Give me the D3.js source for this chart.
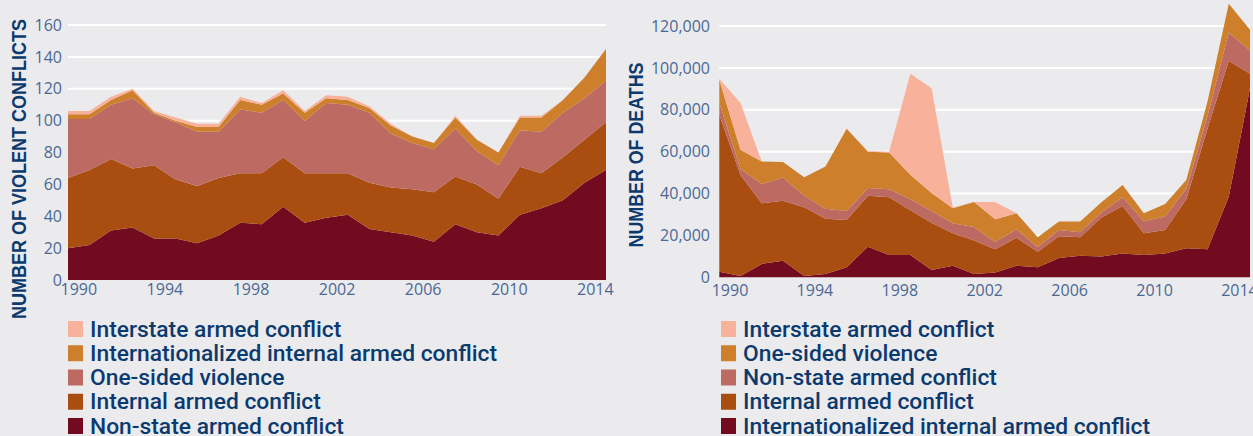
<!DOCTYPE html>
<html>
<head>
<meta charset="utf-8">
<script src="https://cdn.jsdelivr.net/npm/d3@7"></script>
<style>
  html, body { margin: 0; padding: 0; background: #ebebed; overflow: hidden; }
  svg { display: block; }
  .tick text { font-family: "Open Sans", "Noto Sans", sans-serif; }
</style>
</head>
<body>
<svg id="chart" width="1253" height="436"></svg>
<script>
// ---- data ---------------------------------------------------------------
const years = [1989, 1990, 1991, 1992, 1993, 1994, 1995, 1996, 1997, 1998, 1999, 2000, 2001,
               2002, 2003, 2004, 2005, 2006, 2007, 2008, 2009, 2010, 2011, 2012, 2013, 2014];
const tickYears = [1990, 1994, 1998, 2002, 2006, 2010, 2014];

// Number of violent conflicts, by type
const conflictNonState   = [20, 22, 31, 33, 26, 26, 23, 28, 36, 35, 46, 36, 39, 41, 32, 30, 28, 24, 35, 30, 28, 41, 45, 50, 61, 69];
const conflictInternal   = [44, 47, 45, 37, 46, 37, 36, 36, 31, 32, 31, 31, 28, 26, 29, 28, 29, 31, 30, 30, 23, 30, 22, 27, 27, 30];
const conflictOneSided   = [37, 32, 34, 44, 32, 36, 34, 29, 40, 38, 36, 33, 44, 43, 44, 34, 29, 27, 30, 21, 21, 23, 26, 28, 26, 26];
const conflictIntlInt    = [3, 3, 3, 5, 1, 1, 3, 3, 6, 5, 4, 5, 3, 3, 3, 5, 4, 4, 7, 7, 8, 8, 9, 8, 13, 20];
const conflictInterstate = [2, 2, 2, 1, 1, 2, 2, 2, 2, 1, 2, 1, 2, 2, 1, 1, 0, 0, 1, 0, 0, 1, 1, 0, 0, 0];
const conflictTicks = [0, 20, 40, 60, 80, 100, 120, 140, 160];

// Number of deaths, by type
const deathsIntlInt    = [2700, 600, 6400, 7900, 600, 1600, 4800, 14600, 10700, 10700, 3500, 5500, 1600, 2300, 5500, 4800, 9200, 10300, 9900, 11400, 10700, 11400, 13900, 13400, 38500, 90300];
const deathsInternal   = [74900, 48300, 29000, 28600, 32900, 26300, 22600, 24400, 27500, 21300, 22500, 15500, 16000, 11100, 13400, 7400, 10400, 8800, 18700, 22600, 10300, 11200, 23400, 57600, 64900, 6900];
const deathsNonState   = [5600, 2800, 9100, 11100, 5400, 4800, 4300, 3600, 3900, 5300, 5600, 4800, 6400, 3500, 4100, 2200, 3000, 2400, 2400, 4200, 5800, 6400, 5000, 6000, 13500, 11100];
const deathsOneSided   = [11100, 9200, 10800, 7400, 8900, 20200, 39200, 17400, 17500, 11700, 8700, 7200, 11900, 10800, 7600, 4700, 4000, 5100, 4800, 5900, 3800, 6000, 4200, 7000, 13700, 9900];
const deathsInterstate = [500, 22300, 0, 0, 0, 0, 0, 300, 400, 48200, 50000, 300, 0, 8200, 0, 0, 0, 0, 0, 0, 0, 0, 0, 0, 0, 0];
const deathTicks = [0, 20000, 40000, 60000, 80000, 100000, 120000];

// Layer colours, bottom of the stack first
const layerColors = ["#720a20", "#a94d11", "#bd6b62", "#cd7f2b", "#f8b19a"];

// Legend entries, top row first
const conflictLegend = ["Interstate armed conflict", "Internationalized internal armed conflict",
                        "One-sided violence", "Internal armed conflict", "Non-state armed conflict"];
const deathLegend = ["Interstate armed conflict", "One-sided violence",
                     "Non-state armed conflict", "Internal armed conflict",
                     "Internationalized internal armed conflict"];

// ---- drawing ------------------------------------------------------------
const svg = d3.select("#chart");
const navy = "#0b3a6e";
const tickColor = "#4a6896";

function panel(opts) {
  const g = svg.append("g");
  const x = d3.scalePoint().domain(years).range(opts.xRange);
  const y = d3.scaleLinear().domain(opts.yDomain).range(opts.yRange);

  // gridlines
  g.append("g").selectAll("line").data(opts.yTicks.slice(1)).join("line")
    .attr("x1", opts.xRange[0]).attr("x2", opts.xRange[1])
    .attr("y1", d => y(d)).attr("y2", d => y(d))
    .attr("stroke", "#ffffff").attr("stroke-width", 2);

  // stacked areas
  const rows = years.map((yr, i) => {
    const r = { year: yr };
    opts.series.forEach((s, k) => r["s" + k] = s[i]);
    return r;
  });
  const keys = opts.series.map((_, k) => "s" + k);
  const stacked = d3.stack().keys(keys)(rows);
  const area = d3.area()
    .x(d => x(d.data.year))
    .y0(d => y(d[0]))
    .y1(d => y(d[1]));
  g.append("g").selectAll("path").data(stacked).join("path")
    .attr("d", area)
    .attr("fill", (d, i) => layerColors[i]);

  // y axis labels
  const yAxis = d3.axisLeft(y).tickValues(opts.yTicks).tickSize(0).tickPadding(0)
    .tickFormat(opts.yFormat);
  const ya = g.append("g").attr("transform", `translate(${opts.yLabelX},0)`).call(yAxis);
  ya.select(".domain").remove();
  ya.selectAll("text").attr("fill", tickColor).style("font-size", "16px");

  // x axis labels, centred between neighbouring years
  const step = x.step();
  const xl = d3.scaleLinear().domain([tickYears[0], tickYears[tickYears.length - 1]])
    .range([x(tickYears[0]) - step * 0.52, x(tickYears[tickYears.length - 1]) - step * 0.52]);
  const xAxis = d3.axisBottom(xl).tickValues(tickYears).tickSize(0).tickPadding(0)
    .tickFormat(d3.format("d"));
  const xa = g.append("g").attr("transform", `translate(0,${opts.xLabelY})`).call(xAxis);
  xa.select(".domain").remove();
  xa.selectAll("text").attr("fill", tickColor).style("font-size", "16px");

  // axis title
  g.append("text")
    .attr("transform", `translate(${opts.titleX},${opts.titleY}) rotate(-90)`)
    .attr("text-anchor", "middle")
    .attr("dominant-baseline", "central")
    .attr("fill", navy)
    .attr("textLength", opts.titleLength)
    .attr("lengthAdjust", "spacingAndGlyphs")
    .style("font-family", "'Liberation Sans', Arial, sans-serif")
    .style("font-weight", "bold")
    .style("font-size", "21px")
    .text(opts.title);

  // legend
  const lg = g.append("g");
  const rowsY = d3.scaleLinear().domain([0, 4]).range([329, 426]);
  const item = lg.selectAll("g").data(opts.legend).join("g")
    .attr("transform", (d, i) => `translate(${opts.legendX},${rowsY(i)})`);
  item.append("rect")
    .attr("x", 0).attr("y", -8).attr("width", 15).attr("height", 16)
    .attr("fill", (d, i) => layerColors[layerColors.length - 1 - i]);
  item.append("text")
    .attr("x", 22).attr("y", 0)
    .attr("dominant-baseline", "central")
    .attr("fill", navy)
    .style("font-family", "Roboto, 'Noto Sans', sans-serif")
    .style("font-weight", 500)
    .style("font-size", "22.8px")
    .text(d => d);
}

panel({
  xRange: [68, 606], yDomain: [0, 160], yRange: [280, 25],
  yTicks: conflictTicks, yFormat: d3.format("d"),
  series: [conflictNonState, conflictInternal, conflictOneSided, conflictIntlInt, conflictInterstate],
  yLabelX: 62, xLabelY: 284,
  title: "NUMBER OF VIOLENT CONFLICTS", titleX: 18, titleY: 169, titleLength: 300,
  legend: conflictLegend, legendX: 68
});

panel({
  xRange: [719.3, 1250], yDomain: [0, 120000], yRange: [277.3, 26],
  yTicks: deathTicks, yFormat: d3.format(","),
  series: [deathsIntlInt, deathsInternal, deathsNonState, deathsOneSided, deathsInterstate],
  yLabelX: 710, xLabelY: 285,
  title: "NUMBER OF DEATHS", titleX: 635, titleY: 155, titleLength: 185,
  legend: deathLegend, legendX: 721
});
</script>
</body>
</html>
